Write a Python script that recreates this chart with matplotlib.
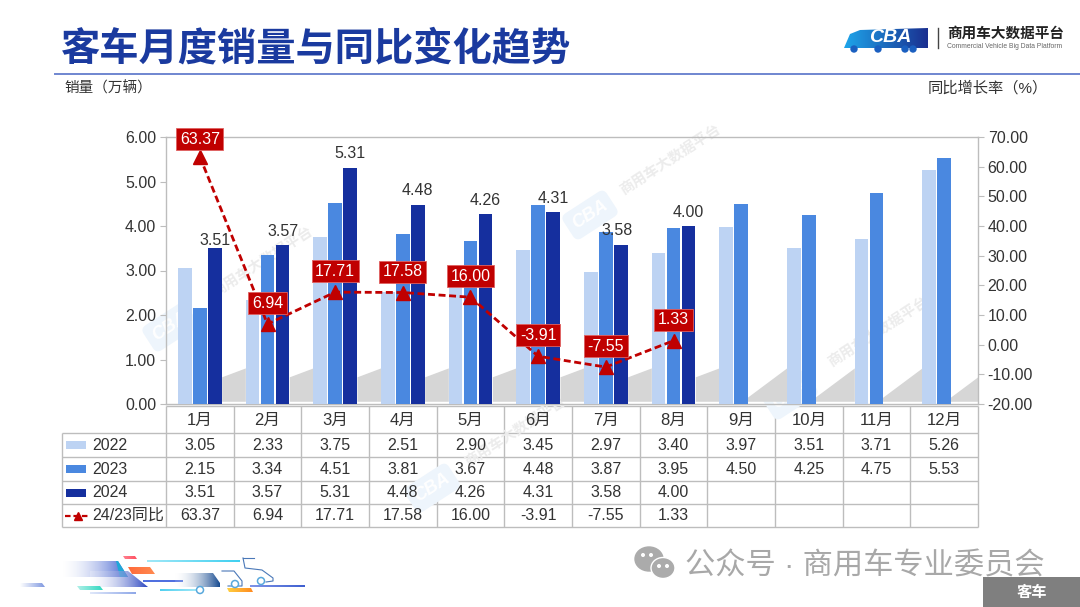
import matplotlib
matplotlib.use('Agg')
import matplotlib.pyplot as plt
import numpy as np
from matplotlib.colors import to_rgb
from matplotlib.patches import Ellipse, Polygon, Rectangle, Circle

plt.rcParams['font.family'] = ['Liberation Sans', 'Noto Sans CJK SC', 'DejaVu Sans']

months = ['1月', '2月', '3月', '4月', '5月', '6月', '7月', '8月', '9月', '10月', '11月', '12月']
sales_2022 = [3.05, 2.33, 3.75, 2.51, 2.90, 3.45, 2.97, 3.40, 3.97, 3.51, 3.71, 5.26]
sales_2023 = [2.15, 3.34, 4.51, 3.81, 3.67, 4.48, 3.87, 3.95, 4.50, 4.25, 4.75, 5.53]
sales_2024 = [3.51, 3.57, 5.31, 4.48, 4.26, 4.31, 3.58, 4.00]
yoy = [63.37, 6.94, 17.71, 17.58, 16.00, -3.91, -7.55, 1.33]

C22 = '#bdd3f3'
C23 = '#4a88e0'
C24 = '#152f9e'
RED = '#c00000'
GRID = '#bdbdbd'
TXT = '#333333'
W, H = 1080, 607


def box(x0, y0, x1, y1):
    return [x0 / W, 1 - y1 / H, (x1 - x0) / W, (y1 - y0) / H]


fig = plt.figure(figsize=(10.8, 6.07), dpi=100)

# pixel canvas for everything around the chart
bg = fig.add_axes([0, 0, 1, 1], zorder=0)
bg.axis('off')


def fade(pts, c0, c1, a0=1.0, a1=1.0, z=2):
    # horizontal gradient clipped to a polygon
    xs = [p[0] for p in pts]
    ys = [p[1] for p in pts]
    t = np.linspace(0, 1, 128)
    rgba = np.ones((1, 128, 4))
    rgba[0, :, :3] = np.outer(1 - t, to_rgb(c0)) + np.outer(t, to_rgb(c1))
    rgba[0, :, 3] = a0 + (a1 - a0) * t
    im = bg.imshow(rgba, extent=(min(xs), max(xs), max(ys), min(ys)), aspect='auto', zorder=z)
    clip = Polygon(pts, transform=bg.transData, fc='none', ec='none')
    bg.add_patch(clip)
    im.set_clip_path(clip)


bg.text(61, 49, '客车月度销量与同比变化趋势', fontsize=28.3, fontweight='bold', color='#1a3a9f', va='center')
bg.plot([55, 1080], [73.5, 73.5], color='#6f86d0', lw=1.4)
bg.text(64, 88, '销量（万辆）', fontsize=10.5, color=TXT, va='center')
bg.text(928, 88, '同比增长率（%）', fontsize=11, color=TXT, va='center')

# logo
fade([(844, 48), (850, 34), (860, 30), (928, 28), (928, 48)], '#1ea5ea', '#1a2f90')
bg.text(890, 38, 'CBA', fontsize=14, fontweight='bold', fontstyle='italic', color='white', ha='center', va='center', zorder=3)
for cx in [854, 878, 905, 913]:
    bg.add_patch(Circle((cx, 49), 3, color='#1a5fc0', zorder=3))
bg.plot([937.5, 937.5], [28, 48], color='#444444', lw=1)
bg.text(947, 34, '商用车大数据平台', fontsize=10.5, fontweight='bold', color='#222222', va='center')
bg.text(947, 46.5, 'Commercial Vehicle Big Data Platform', fontsize=4.9, color='#666666', va='center')

# faint diagonal watermarks
for lx, ly, tx, ty in [(170, 327, 262, 262), (590, 215, 670, 160), (790, 395, 878, 332), (432, 488, 515, 432)]:
    bg.text(lx, ly, 'CBA', fontsize=13, fontweight='bold', fontstyle='italic', color='white', rotation=33,
            ha='center', va='center', bbox=dict(boxstyle='round,pad=0.35', fc='#eef5fc', ec='none'))
    bg.text(tx, ty, '商用车大数据平台', fontsize=10.5, fontweight='bold', color='#ececec', rotation=33,
            ha='center', va='center', rotation_mode='anchor')

# footer truck streaks
fade([(63, 561), (118, 561), (128, 577), (63, 577)], '#ffffff', '#3f5fd0', 0.2, 1)
fade([(116, 561), (118, 561), (128, 577), (120, 577)], '#20a8d8', '#20a8d8')
fade([(90, 571), (128, 571), (148, 587), (90, 587)], '#ffffff', '#2a45c0', 0.2, 1)
fade([(128, 567), (150, 567), (155, 574), (132, 574)], '#ff6a3a', '#ff8a50')
fade([(123, 556), (135, 556), (137, 559), (125, 559)], '#ff8090', '#ff5060')
fade([(147, 560), (240, 560), (240, 562), (147, 562)], '#a0e8f8', '#40d0f0')
fade([(143, 580), (183, 580), (183, 582), (143, 582)], '#5070e0', '#5070e0')
fade([(250, 585), (305, 585), (305, 587), (250, 587)], '#7f95e8', '#3f5fd0')
fade([(227, 588), (251, 588), (253, 592), (229, 592)], '#ffd040', '#ff8a20')
fade([(77, 586), (100, 586), (103, 590), (80, 590)], '#b0f0e8', '#30d8c0')
fade([(20, 583), (42, 583), (45, 587), (20, 587)], '#ffffff', '#7f98e0')
fade([(90, 592), (136, 592), (136, 594), (90, 594)], '#e0e8fa', '#8fa8e8')
fade([(160, 589), (197, 589), (197, 591), (160, 591)], '#50d0f0', '#a0e8f8')
fade([(175, 573), (213, 573), (220, 583), (220, 587), (175, 587)], '#ffffff', '#164a90', 0.1, 1)
truck_lines = [[(222, 571), (234, 571), (242, 581), (242, 586), (228, 586)],
               [(243, 558), (245, 568), (262, 570), (273, 578), (273, 581), (266, 582)],
               [(243, 558), (254, 558)]]
for line in truck_lines:
    bg.plot(*zip(*line), color='#4a78b8', lw=0.8)
for cx, cy in [(200, 590), (235, 584), (261, 581)]:
    bg.add_patch(Circle((cx, cy), 3.5, fc='white', ec='#58a8dc', lw=1.1, zorder=3))

# wechat footer
bg.add_patch(Ellipse((649, 559), 28, 24, color='#ababab'))
bg.add_patch(Ellipse((663, 568), 24, 21, fc='#ababab', ec='white', lw=1))
for dx, dy in [(643, 555), (651, 555), (659, 566), (667, 566)]:
    bg.add_patch(Circle((dx, dy), 1.3, color='white'))
bg.text(685, 566, '公众号 · 商用车专业委员会', fontsize=21.8, color='#a8a8a8', va='center')
bg.add_patch(Rectangle((983, 577), 97, 30, color='#7f7f7f', lw=0))
bg.text(1032, 592.5, '客车', fontsize=11, fontweight='bold', color='white', ha='center', va='center')

# main chart
ax = fig.add_axes(box(166, 137, 978, 404), zorder=1)
ax.patch.set_alpha(0)
x = list(range(12))
width = 0.2
gap = 0.222
ax.bar([i - gap for i in x], sales_2022, width, color=C22, zorder=3)
ax.bar(x, sales_2023, width, color=C23, zorder=3)
ax.bar([i + gap for i in x[:len(sales_2024)]], sales_2024, width, color=C24, zorder=3)

ax.set_xlim(-0.5, 11.5)
ax.set_ylim(0, 6)
ax.set_yticks([0, 1, 2, 3, 4, 5, 6])
ax.set_yticklabels([f'{v:.2f}' for v in [0, 1, 2, 3, 4, 5, 6]], fontsize=11.5, color=TXT)
ax.set_xticks([])
ax.tick_params(axis='y', length=4, color=GRID, pad=3)
for s in ['left', 'right', 'top', 'bottom']:
    ax.spines[s].set_color(GRID)
    ax.spines[s].set_linewidth(1)

# gray shadow stripes behind the bars
for i in x:
    left = i + 0.33 if i < 8 else i + 0.08
    low = 0.6 if i < 8 else 0.12
    ax.add_patch(Polygon([[left, 0.05], [left, low], [i + 0.68, 0.8], [i + 0.68, 0.05]],
                         color='#d6d6d6', lw=0, zorder=1))

for i, v in enumerate(sales_2024):
    dy = 5 if i == 0 else 10
    dx = -3 if i == 6 else 0
    ax.annotate(f'{v:.2f}', (i + gap, v), xytext=(dx, dy), textcoords='offset points',
                ha='center', va='center', fontsize=11.5, color=TXT, zorder=4)

ax2 = ax.twinx()
ax2.set_ylim(-20, 70)
ax2.set_yticks(range(-20, 71, 10))
ax2.set_yticklabels([f'{v:.2f}' for v in range(-20, 71, 10)], fontsize=11.5, color=TXT)
ax2.tick_params(axis='y', length=4, color=GRID, pad=3)
for s in ax2.spines.values():
    s.set_visible(False)
ax2.plot(x[:len(yoy)], yoy, color=RED, ls=(0, (2.5, 1.3)), lw=2, marker='^', ms=9.5, zorder=5)
for i, v in enumerate(yoy):
    ax2.annotate(f'{v:.2f}', (i, v), xytext=(0, 12.5 if i == 0 else 15), textcoords='offset points', ha='center', va='center',
                 fontsize=11.5, color='white', zorder=6, annotation_clip=False,
                 bbox=dict(boxstyle='square,pad=0.22', fc=RED, ec='#e06060', lw=0.6))

# data table under the plot
col_x = [166 + 812 / 12 * i for i in range(13)]
row_y = [406, 433, 457, 481, 504, 527]
line_kw = dict(color=GRID, lw=1, solid_capstyle='butt')
for y in row_y[1:]:
    bg.plot([62, 978], [y, y], **line_kw)
bg.plot([166, 978], [row_y[0], row_y[0]], **line_kw)
bg.plot([62, 62], [row_y[1], row_y[-1]], **line_kw)
for cx in col_x:
    bg.plot([cx, cx], [row_y[0], row_y[-1]], **line_kw)

for i, m in enumerate(months):
    bg.text((col_x[i] + col_x[i + 1]) / 2, 420, m, fontsize=12, color=TXT, ha='center', va='center')

rows = [sales_2022, sales_2023, sales_2024, yoy]
names = ['2022', '2023', '2024', '24/23同比']
colors = [C22, C23, C24]
for r, (vals, name) in enumerate(zip(rows, names)):
    yc = (row_y[r + 1] + row_y[r + 2]) / 2
    if r < 3:
        bg.add_patch(Rectangle((66, yc - 4), 20, 8, color=colors[r], lw=0))
        bg.text(92, yc, name, fontsize=11.5, color=TXT, va='center')
    else:
        bg.plot([65, 90], [yc, yc], color=RED, ls=(0, (2.5, 1.3)), lw=1.6)
        bg.plot([77.5], [yc], color=RED, marker='^', ms=6)
        bg.text(92, yc, name, fontsize=11.5, color=TXT, va='center')
    for i, v in enumerate(vals):
        bg.text((col_x[i] + col_x[i + 1]) / 2, yc, f'{v:.2f}', fontsize=11.5, color=TXT, ha='center', va='center')

bg.set_xlim(0, W)
bg.set_ylim(H, 0)
fig.savefig('out.png', dpi=100)
